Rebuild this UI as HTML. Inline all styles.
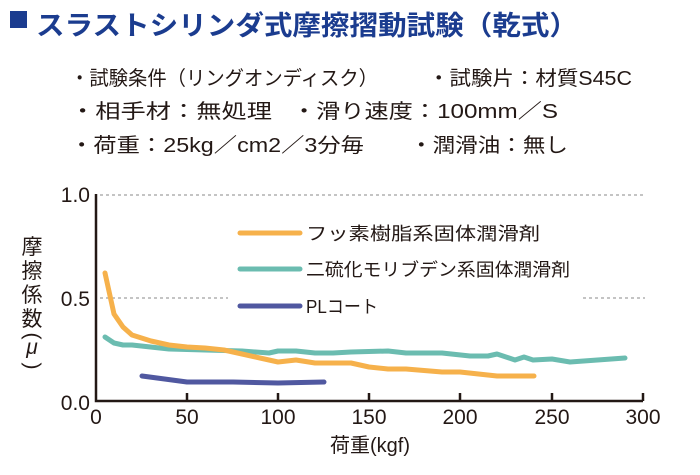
<!DOCTYPE html>
<html><head><meta charset="utf-8"><style>
body{margin:0;background:#fff;}
svg text{font-family:"Liberation Sans","Noto Sans CJK JP",sans-serif;fill:#231815;}
</style></head><body>
<svg width="700" height="470" viewBox="0 0 700 470" xmlns="http://www.w3.org/2000/svg">
<rect x="10" y="11" width="17" height="17" fill="#1b3c8f"/>
<text x="36" y="35" font-size="27" font-weight="bold" style="fill:#1b3c8f" textLength="542" lengthAdjust="spacingAndGlyphs">スラストシリンダ式摩擦摺動試験（乾式）</text>
<text x="70" y="85" font-size="20" textLength="308" lengthAdjust="spacingAndGlyphs">・試験条件（リングオンディスク）</text>
<text x="428" y="85" font-size="20" textLength="204" lengthAdjust="spacingAndGlyphs">・試験片：材質S45C</text>
<text x="70" y="118" font-size="20" textLength="202" lengthAdjust="spacingAndGlyphs">・相手材：無処理</text>
<text x="292" y="118" font-size="20" textLength="266" lengthAdjust="spacingAndGlyphs">・滑り速度：100mm／S</text>
<text x="70" y="152" font-size="20" textLength="294" lengthAdjust="spacingAndGlyphs">・荷重：25kg／cm2／3分毎</text>
<text x="410" y="152" font-size="20" textLength="158" lengthAdjust="spacingAndGlyphs">・潤滑油：無し</text>
<g stroke="#888" stroke-width="1" stroke-dasharray="3,3">
<line x1="100" y1="195" x2="645" y2="195"/>
<line x1="100" y1="298" x2="228" y2="298"/>
<line x1="583" y1="298" x2="645" y2="298"/>
</g>
<g stroke="#231815" stroke-width="2.5" fill="none">
<polyline points="96,194 96,401 643,401"/>
<line x1="187" y1="401" x2="187" y2="393"/>
<line x1="278" y1="401" x2="278" y2="393"/>
<line x1="369" y1="401" x2="369" y2="393"/>
<line x1="460" y1="401" x2="460" y2="393"/>
<line x1="552" y1="401" x2="552" y2="393"/>
<line x1="643" y1="401" x2="643" y2="393"/>
</g>
<g font-size="21" text-anchor="end">
<text x="90" y="202">1.0</text><text x="90" y="306">0.5</text><text x="90" y="410">0.0</text>
</g>
<g font-size="21" text-anchor="middle">
<text x="96" y="424">0</text><text x="187" y="424">50</text><text x="278" y="424">100</text><text x="369" y="424">150</text><text x="460" y="424">200</text><text x="552" y="424">250</text><text x="643" y="424">300</text>
</g>
<text x="370" y="452" font-size="20" text-anchor="middle">荷重(kgf)</text>
<g font-size="21" text-anchor="middle">
<text x="32" y="254">摩</text><text x="32" y="278">擦</text><text x="32" y="302">係</text><text x="32" y="326">数</text>
<text x="32" y="342" transform="rotate(90 32 336)">(</text>
<text x="32" y="354" font-style="italic">μ</text>
<text x="32" y="372" transform="rotate(90 32 366)">)</text>
</g>
<g fill="none" stroke-width="5" stroke-linecap="round" stroke-linejoin="round">
<line x1="240" y1="233" x2="300" y2="233" stroke="#f6b14b"/>
<line x1="240" y1="269" x2="300" y2="269" stroke="#6bbcb0"/>
<line x1="240" y1="306" x2="300" y2="306" stroke="#5058a0"/>
<polyline stroke="#6bbcb0" points="105,337 114,343 123,345 132,345 169,349 205,350 242,351 269,353 278,351 296,351 315,353 333,353 351,352 388,351 406,353 442,353 470,356 488,356 497,354 515,360 524,357 533,360 552,359 570,362 625,358"/>
<polyline stroke="#f6b14b" points="105,273 114,314 123,327 132,335 151,341 169,345 187,347 205,348 224,350 242,354 260,358 278,362 296,360 315,363 351,363 369,367 388,369 406,369 442,372 460,372 497,376 534,376"/>
<polyline stroke="#5058a0" points="142,376 187,382 233,382 278,383 324,382"/>
</g>
<g font-size="18">
<text x="306" y="240" textLength="234" lengthAdjust="spacingAndGlyphs">フッ素樹脂系固体潤滑剤</text>
<text x="306" y="276" textLength="264" lengthAdjust="spacingAndGlyphs">二硫化モリブデン系固体潤滑剤</text>
<text x="306" y="313" textLength="72" lengthAdjust="spacingAndGlyphs">PLコート</text>
</g>
</svg>
</body></html>
